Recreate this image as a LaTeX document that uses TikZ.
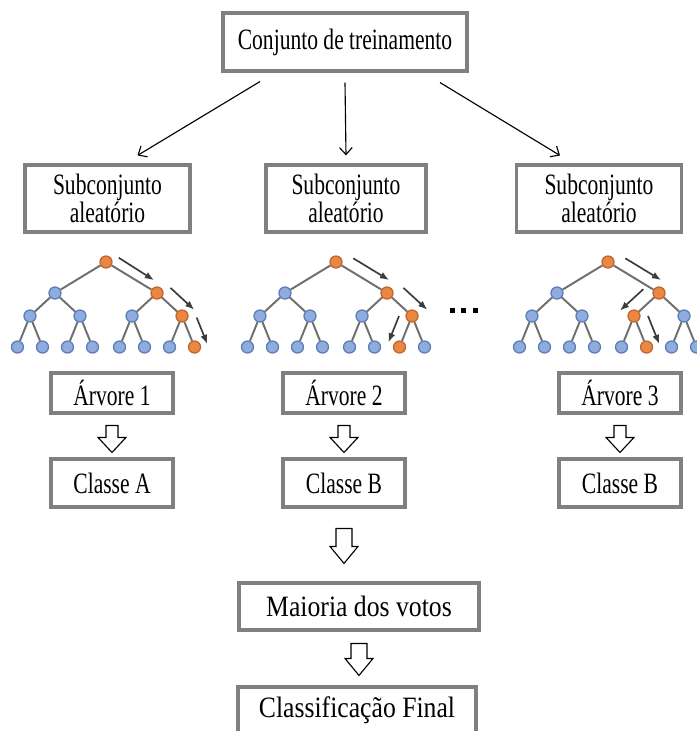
\documentclass[tikz,border=0pt]{standalone}
\usepackage{fontspec}
\setmainfont{Liberation Serif}[FakeStretch=0.73]
\newfontfamily\wideserif{Liberation Serif}[FakeStretch=0.87]
\usetikzlibrary{
    arrows.meta,
    positioning,
    calc
}
\definecolor{boxgray}{RGB}{128,128,128}
\definecolor{leafblue}{RGB}{142,172,222}
\definecolor{leafedge}{RGB}{92,124,184}
\definecolor{hotorange}{RGB}{232,136,66}
\definecolor{hotedge}{RGB}{196,100,44}
\definecolor{branchgray}{RGB}{112,112,112}
\definecolor{walkgray}{RGB}{60,60,60}
\tikzset{
    % --- Text box (gray frame) ---
    box/.style = {
        rectangle, draw=boxgray, line width=2.2pt,
        align=center, inner sep=0pt,
        font=\fontsize{21}{16.5}\selectfont
    },
    % --- Box of the final stages (wider lettering) ---
    wide box/.style = {
        box, font=\wideserif\fontsize{21}{16.5}\selectfont
    },
    % --- Tree vertex ---
    vtx/.style = {
        circle, draw=leafedge, fill=leafblue, line width=0.9pt,
        minimum size=0.3cm, inner sep=0pt
    },
    % --- Vertex on the decision path ---
    hot/.style = {
        draw=hotedge, fill=hotorange
    },
    % --- Thin split arrow ---
    split arrow/.style = {
        -{Straight Barb[length=5pt, width=9pt]}, line width=0.8pt
    },
    % --- Walk arrow beside a tree ---
    walk arrow/.style = {
        -{Latex[length=6.5pt, width=5pt]}, line width=1.2pt, draw=walkgray
    },
    % --- Hollow block arrow ---
    hollow arrow/.style = {
        draw, fill=white, line width=0.8pt, line join=miter
    }
}
% hollow arrow: from, to, top gap, bottom gap, shaft half width, head length
\newcommand{\hollowdown}[6]{%
    \draw[hollow arrow]
        ($(#1.south)+(-#5,#3)$) -- ($(#1.south |- #2.north)+(-#5,-#4-#6)$)
        -- ($(#1.south |- #2.north)+(-14,-#4-#6)$)
        -- ($(#1.south |- #2.north)+(0,-#4)$)
        -- ($(#1.south |- #2.north)+(14,-#4-#6)$)
        -- ($(#1.south |- #2.north)+(#5,-#4-#6)$)
        -- ($(#1.south)+(#5,#3)$) -- cycle;%
}

\begin{document}
\begin{tikzpicture}[
    x=0.025cm, y=-0.025cm,
    level 1/.style = {sibling distance=2.55cm, level distance=0.775cm},
    level 2/.style = {sibling distance=1.25cm, level distance=0.575cm},
    level 3/.style = {sibling distance=0.625cm, level distance=0.775cm},
    every child node/.style = {vtx},
    edge from parent/.style = {draw=branchgray, line width=1.4pt}
]
\useasboundingbox (0,0) rectangle (697,731);

% ---------------------------------------------------------
% Training set and random subsets
% ---------------------------------------------------------
\node[box, minimum width=6.1cm, minimum height=1.45cm] (Train) at (345,42) {Conjunto de treinamento};

\node[box, minimum width=4.125cm, minimum height=1.675cm] (Sub1) at (107.5,198.5) {Subconjunto\\aleatório};
\node[box, minimum width=4.0cm, minimum height=1.675cm] (Sub2) at (346,198.5) {Subconjunto\\aleatório};
\node[box, minimum width=4.125cm, minimum height=1.675cm] (Sub3) at (599,198.5) {Subconjunto\\aleatório};

\draw[split arrow] ($(Train.south)+(-85,9)$) -- ($(Sub1.north)+(30,-8)$);
\draw[split arrow] ($(Train.south)+(0,10)$) -- ($(Sub2.north)+(0,-8)$);
\draw[split arrow] ($(Train.south)+(95,10)$) -- ($(Sub3.north)+(-39,-8)$);

% ---------------------------------------------------------
% Decision trees
% ---------------------------------------------------------
\node[vtx, hot] (T1) at (106,262) {}
    child {node {}
        child {node {} child {node {}} child {node {}}}
        child {node {} child {node {}} child {node {}}}}
    child {node[hot] {}
        child {node {} child {node {}} child {node {}}}
        child {node[hot] {} child {node {}} child {node[hot] {}}}};

\node[vtx, hot] (T2) at (336,262) {}
    child {node {}
        child {node {} child {node {}} child {node {}}}
        child {node {} child {node {}} child {node {}}}}
    child {node[hot] {}
        child {node {} child {node {}} child {node {}}}
        child {node[hot] {} child {node[hot] {}} child {node {}}}};

\node[vtx, hot] (T3) at (608,262) {}
    child {node {}
        child {node {} child {node {}} child {node {}}}
        child {node {} child {node {}} child {node {}}}}
    child {node[hot] {}
        child {node[hot] {} child {node {}} child {node[hot] {}}}
        child {node {} child {node {}} child {node {}}}};

% walk arrows
\draw[walk arrow] ($(T1)!0.25!(T1-2)+(0,-12)$) -- ($(T1)!0.94!(T1-2)+(0,-11)$);
\draw[walk arrow] ($(T1-2)!0.3!(T1-2-2)+(6,-12)$) -- ($(T1-2)!1.25!(T1-2-2)+(6,-12)$);
\draw[walk arrow] ($(T1-2-2)!0.05!(T1-2-2-2)+(14,0)$) -- ($(T1-2-2)!0.9!(T1-2-2-2)+(14,0)$);

\draw[walk arrow] ($(T2)!0.3!(T2-2)+(2,-13)$) -- ($(T2)!1.0!(T2-2)+(2,-13)$);
\draw[walk arrow] ($(T2-2)!0.3!(T2-2-2)+(9,-12)$) -- ($(T2-2)!1.25!(T2-2-2)+(9,-12)$);
\draw[walk arrow] ($(T2-2-2)!0.0!(T2-2-2-1)+(-13,0)$) -- ($(T2-2-2)!0.85!(T2-2-2-1)+(-13,0)$);

\draw[walk arrow] ($(T3)!0.3!(T3-2)+(2,-13)$) -- ($(T3)!1.0!(T3-2)+(2,-13)$);
\draw[walk arrow] ($(T3-2)!0.27!(T3-2-1)+(-9,-10)$) -- ($(T3-2)!1.2!(T3-2-1)+(-9,-10)$);
\draw[walk arrow] ($(T3-2-1)!0.0!(T3-2-1-2)+(14,0)$) -- ($(T3-2-1)!0.9!(T3-2-1-2)+(14,0)$);

% more trees
\foreach \x in {452,463,475}
    \fill (\x-2.5,307.5) rectangle ++(5,5);

% ---------------------------------------------------------
% Trees and their classes
% ---------------------------------------------------------
\node[box, minimum width=3.05cm, minimum height=1.0cm] (Arv1) at (112,393) {Árvore 1};
\node[box, minimum width=3.05cm, minimum height=1.0cm] (Arv2) at (344,393) {Árvore 2};
\node[box, minimum width=3.05cm, minimum height=1.0cm] (Arv3) at (620,393) {Árvore 3};

\node[box, minimum width=3.05cm, minimum height=1.2cm] (Cls1) at (112,483) {Classe A};
\node[box, minimum width=3.05cm, minimum height=1.2cm] (Cls2) at (344,483) {Classe B};
\node[box, minimum width=3.05cm, minimum height=1.2cm] (Cls3) at (620,483) {Classe B};

\hollowdown{Arv1}{Cls1}{11}{5}{6}{15}
\hollowdown{Arv2}{Cls2}{11}{5}{6}{15}
\hollowdown{Arv3}{Cls3}{11}{5}{6}{15}

% ---------------------------------------------------------
% Vote and final result
% ---------------------------------------------------------
\node[wide box, minimum width=6.0cm, minimum height=1.175cm] (Vote) at (359,606.5) {Maioria dos votos};
\node[wide box, minimum width=5.95cm, minimum height=1.15cm] (Final) at (357,710) {Classificação Final};

\hollowdown{Cls2}{Vote}{20}{18}{8}{17}
\hollowdown{Vote}{Final}{12}{10}{8}{17}

\end{tikzpicture}
\end{document}
